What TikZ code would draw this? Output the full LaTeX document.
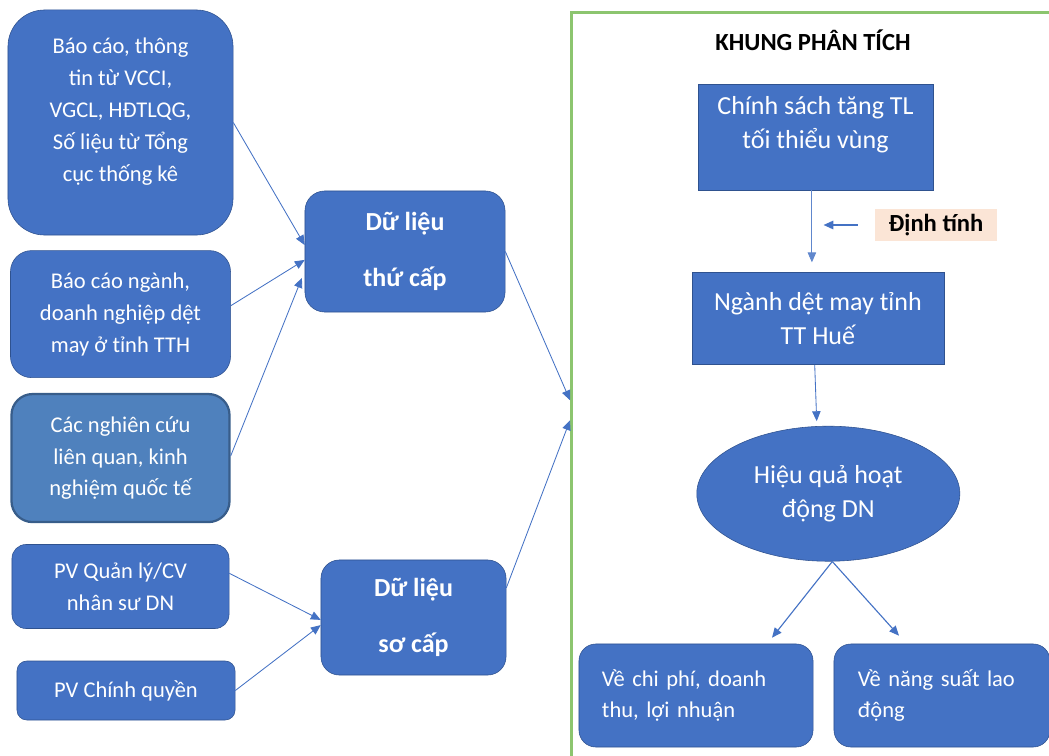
\documentclass[tikz,border=0pt]{standalone}
\usepackage{fontspec}
\setmainfont{Carlito}
\usepackage{tikz}
\usetikzlibrary{shapes,arrows.meta,positioning,calc}
\definecolor{boxblue}{HTML}{4472C4}
\definecolor{boxline}{HTML}{2F528F}
\definecolor{oldblue}{HTML}{4F81BD}
\definecolor{oldline}{HTML}{385D8A}
\definecolor{framegreen}{HTML}{8CC56F}
\definecolor{peach}{HTML}{FBE5D6}
\tikzset{srcbox/.style={draw=boxline, fill=boxblue, text=white, align=center, inner sep=2pt, font=\fontsize{16}{22.7}\selectfont}}
\tikzset{databox/.style={srcbox, font=\fontsize{18.5}{40}\selectfont\bfseries}}
\tikzset{stepbox/.style={srcbox, font=\fontsize{18.5}{24.3}\selectfont}}
\tikzset{arrow/.style={-{Triangle[length=7pt,width=6pt]}, semithick, color=boxblue}}

\begin{document}
\begin{tikzpicture}[x=0.025cm, y=-0.025cm]
  \useasboundingbox (0,0) rectangle (1049,755);
  \clip (0,0) rectangle (1049,755);

  % Cot trai: nguon du lieu
  \node[srcbox, rounded corners=26pt, minimum width=5.625cm, minimum height=5.625cm] (vcci) at (120.5,122.5)
    {Báo cáo, thông\\tin từ VCCI,\\VGCL, HĐTLQG,\\Số liệu từ Tổng\\cục thống kê\\[-4pt]~};
  \node[srcbox, rounded corners=15pt, minimum width=5.5cm, minimum height=3.175cm, below=0.375cm of vcci] (nganhbc)
    {Báo cáo ngành,\\doanh nghiệp dệt\\may ở tỉnh TTH};
  \node[srcbox, rounded corners=15pt, minimum width=5.45cm, minimum height=3.2cm, below=0.375cm of nganhbc,
        draw=oldline, fill=oldblue, line width=1.6pt] (nghiencuu)
    {Các nghiên cứu\\liên quan, kinh\\nghiệm quốc tế};
  \node[srcbox, rounded corners=10pt, minimum width=5.425cm, minimum height=2.1cm, below=0.525cm of nghiencuu] (pvql)
    {PV Quản lý/CV\\nhân sư DN};
  \node[srcbox, rounded corners=7pt, minimum width=5.45cm, minimum height=1.475cm] (pvcq) at (126,690.5)
    {PV Chính quyền};

  % Cot giua: hai loai du lieu
  \node[databox, rounded corners=14pt, minimum width=5.0cm, minimum height=3.025cm] (thucap) at (405,251.5)
    {Dữ liệu\\thứ cấp};
  \node[databox, rounded corners=13pt, minimum width=4.625cm, minimum height=2.875cm] (socap) at (413.5,617.5)
    {Dữ liệu\\sơ cấp};

  % Khung phan tich
  \node[draw=framegreen, line width=2.2pt, minimum width=13cm, minimum height=20cm, anchor=north west] (khung) at (570,11) {};
  \node[font=\fontsize{17.5}{20}\selectfont\bfseries] (tieude) at (813,40) {KHUNG PHÂN TÍCH};
  \node[stepbox, minimum width=5.875cm, minimum height=2.65cm] (chinhsach) at (815.5,137)
    {Chính sách tăng TL\\tối thiểu vùng\\[-4pt]~};
  \node[stepbox, minimum width=6.3cm, minimum height=2.3cm, below=2.05cm of chinhsach, xshift=0.06cm] (nganh)
    {Ngành dệt may tỉnh\\TT Huế};
  \node[stepbox, ellipse, minimum width=6.575cm, minimum height=3.375cm, below=1.525cm of nganh, xshift=0.26cm] (hieuqua)
    {Hiệu quả hoạt\\động DN};
  \node[srcbox, rounded corners=12pt, align=left, text width=4.7cm, inner xsep=0.575cm, minimum height=2.575cm] (chiphi) at (696,695.5)
    {Về chi phí, doanh\\thu, lợi nhuận};
  \node[srcbox, rounded corners=12pt, align=left, text width=4.2cm, inner xsep=0.6cm, minimum height=2.575cm] (nangsuat) at (942,695.5)
    {Về năng suất lao\\động};
  \node[fill=peach, minimum width=3.05cm, minimum height=0.8cm, font=\fontsize{17.5}{19}\selectfont\bfseries] (dinhtinh) at (936,225)
    {Định tính};

  % Mui ten ben trai
  \draw[arrow] (vcci.east) -- ([yshift=0.16cm]thucap.west);
  \draw[arrow] ([yshift=0.21cm]nganhbc.east) -- ([yshift=-0.21cm]thucap.west);
  \draw[arrow] ([yshift=0.05cm]nghiencuu.east) -- ([xshift=-0.07cm,yshift=-0.66cm]thucap.west);
  \draw[arrow] ([yshift=0.33cm]pvql.east) -- ([yshift=-0.06cm]socap.west);
  \draw[arrow] (pvcq.east) -- ([yshift=-0.19cm]socap.west);
  \draw[arrow] (thucap.east) -- ([yshift=0.31cm]khung.west);
  \draw[arrow] ([yshift=0.74cm]socap.east) -- ([yshift=-0.19cm]khung.west);

  % Mui ten trong khung
  \draw[arrow, color=boxblue!85] ([xshift=-0.09cm]chinhsach.south) -- ([xshift=-0.09cm,yshift=0.25cm]chinhsach.south |- nganh.north);
  \draw[arrow, line width=1.1pt] ([xshift=-0.42cm]dinhtinh.west) -- ([xshift=0.2cm]chinhsach.south |- dinhtinh.west);
  \draw[arrow] ([xshift=-0.08cm]nganh.south) -- ([xshift=-0.03cm,yshift=0.12cm]nganh.south |- hieuqua.north);
  \draw[arrow, thick] ([xshift=0.1cm]hieuqua.south) -- ($(chiphi.north)+(1.9cm,0.15cm)$);
  \draw[arrow, thick] ([xshift=0.1cm]hieuqua.south) -- ($(nangsuat.north)+(-1.075cm,0.2cm)$);
\end{tikzpicture}
\end{document}
